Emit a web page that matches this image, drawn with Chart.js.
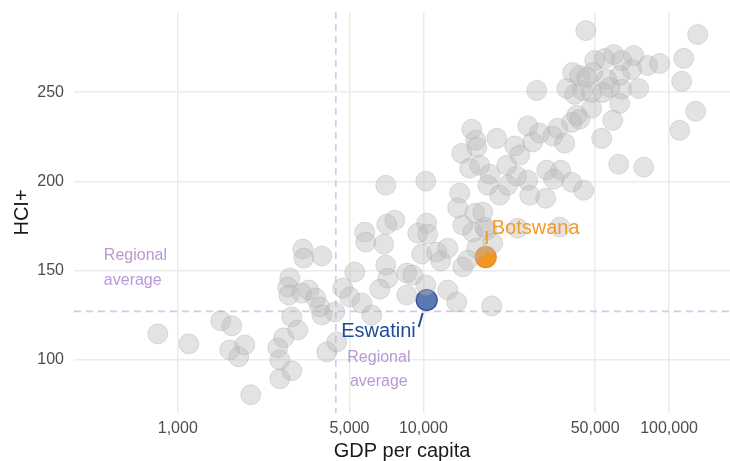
<!DOCTYPE html>
<html lang="en">
<head>
  <meta charset="UTF-8">
  <title>HCI+ vs GDP per capita</title>
  <style>
    body {
      margin: 0;
      background: #ffffff;
    }
    canvas#chart {
      display: block;
    }
  </style>
</head>
<body>
  <canvas id="chart" width="730" height="461"></canvas>

  <script src="https://cdn.jsdelivr.net/npm/chart.js"></script>
  <script>
    // all other countries (grey)
    const gdpValues = [
      829, 1109, 1496, 1659, 1628, 1771, 1874, 1982, 2553, 2701,
      2601, 2911, 2601, 2911, 3079, 2856, 2804, 2830, 3197, 3414,
      3226, 3257, 3857, 3645, 3785, 3857, 4355, 4041, 4438, 4695,
      5012, 5609, 6161, 5253, 5768, 5823, 7024, 10220, 7641, 7089,
      6893, 7024, 7156, 6640, 8551, 9048, 8551, 10220, 12560, 13660,
      18970, 9480, 10310, 10410, 9840, 11330, 11760, 12560, 14450, 15150,
      15870, 17770, 19140, 16480, 14450, 16180, 17430, 13790, 14050, 18100,
      24200, 35860, 15730, 16330, 16480, 19880, 14320, 23530, 24660, 27860,
      26580, 29740, 33590, 35200, 37590, 15430, 16950, 18620, 21830, 23970,
      26580, 31760, 36210, 33910, 40150, 44920, 18270, 20440, 22030, 27080,
      31460, 28910, 38300, 40530, 43270, 41290, 42070, 40150, 48420, 44500,
      45780, 49820, 54700, 59500, 64140, 71770, 81850, 91570, 70440, 62940,
      55720, 48870, 46200, 64140, 57310, 53660, 48420, 62940, 75200, 58950,
      53170, 62360, 78830, 110400, 128300, 112500, 114700, 130700, 43270
    ];
    const hciValues = [
      114.4, 108.8, 121.7, 118.9, 105.4, 101.5, 108.2, 80.2, 106.6, 112.2,
      99.8, 93.7, 89.2, 123.9, 116.6, 145.7, 140.7, 136.2, 137.3, 139.0,
      162.0, 156.9, 158.1, 134.5, 129.5, 125.0, 126.7, 104.3, 109.9, 140.1,
      135.1, 131.7, 125.0, 149.1, 171.5, 165.9, 197.8, 200.1, 178.2, 175.9,
      164.8, 153.0, 145.7, 139.5, 148.5, 147.4, 136.2, 141.8, 139.0, 132.3,
      130.1, 170.9, 176.5, 170.4, 159.2, 160.3, 155.3, 162.5, 151.9, 155.8,
      171.5, 174.3, 165.3, 162.5, 175.4, 182.1, 182.7, 185.1, 193.5, 172.6,
      173.7, 174.3, 229.2, 223.1, 219.1, 224.1, 215.7, 219.8, 214.7, 222.1,
      231.1, 227.1, 225.4, 229.8, 221.4, 207.3, 209.0, 204.0, 209.0, 202.9,
      200.6, 206.2, 206.2, 201.2, 199.5, 195.0, 197.8, 192.2, 197.8, 192.2,
      190.5, 251.0, 252.1, 261.1, 259.4, 248.8, 237.0, 233.1, 241.0, 251.0,
      284.6, 267.8, 268.9, 271.2, 267.8, 270.6, 265.0, 266.1, 262.8, 259.4,
      257.2, 261.1, 258.3, 251.6, 252.7, 249.9, 249.9, 243.7, 252.1, 234.2,
      224.1, 209.6, 207.9, 228.6, 239.3, 256.1, 269.0, 282.4, 234.8
    ];

    // highlighted countries
    const highlightNames = ['Eswatini', 'Botswana'];
    const highlightGdp = [10310, 17930];
    const highlightHci = [133.4, 157.5];
    const highlightFill = ['rgba(70, 102, 168, 0.88)', '#f29524'];
    const highlightBorder = ['#2d4e94', '#e98c1c'];
    const highlightText = ['#1f4b99', '#f39b2a'];

    // regional averages
    const regionalGdp = 4400;
    const regionalHci = 127;
    const regionalLabelGdp = 500;

    const xTicks = [1000, 5000, 10000, 50000, 100000];
    const yTicks = [100, 150, 200, 250];

    const FONT = "'Liberation Sans', Arial, sans-serif";
    const regionalColor = '#b898d6';

    const greyPoints = gdpValues.map((g, i) => ({ x: g, y: hciValues[i] }));
    const highlightPoints = highlightGdp.map((g, i) => ({ x: g, y: highlightHci[i] }));

    const overlay = {
      id: 'overlay',
      beforeDatasetsDraw(chart) {
        const { ctx, chartArea: a, scales: { x, y } } = chart;
        const vx = x.getPixelForValue(regionalGdp);
        const hy = y.getPixelForValue(regionalHci);
        ctx.save();
        ctx.strokeStyle = '#d6c7ec';
        ctx.lineWidth = 1.6;
        ctx.setLineDash([7, 5]);
        ctx.beginPath();
        ctx.moveTo(vx, a.top); ctx.lineTo(vx, a.bottom);
        ctx.moveTo(a.left, hy); ctx.lineTo(a.right, hy);
        ctx.stroke();
        ctx.restore();
      },
      afterDatasetsDraw(chart) {
        const { ctx, scales: { x, y } } = chart;
        const vx = x.getPixelForValue(regionalGdp);
        const hy = y.getPixelForValue(regionalHci);
        ctx.save();
        ctx.textBaseline = 'middle';

        // regional average labels
        ctx.fillStyle = regionalColor;
        ctx.font = '16px ' + FONT;
        ctx.textAlign = 'left';
        const lx = x.getPixelForValue(regionalLabelGdp);
        ctx.fillText('Regional', lx, hy - 56);
        ctx.fillText('average', lx, hy - 31);
        ctx.textAlign = 'center';
        ctx.fillText('Regional', vx + 43, hy + 46);
        ctx.fillText('average', vx + 43, hy + 70);

        // country labels
        ctx.font = '20px ' + FONT;
        ctx.lineWidth = 2;
        const e = { px: x.getPixelForValue(highlightGdp[0]), py: y.getPixelForValue(highlightHci[0]) };
        ctx.strokeStyle = highlightText[0];
        ctx.beginPath();
        ctx.moveTo(e.px - 8, e.py + 27); ctx.lineTo(e.px - 4, e.py + 13);
        ctx.stroke();
        ctx.fillStyle = highlightText[0];
        ctx.textAlign = 'right';
        ctx.fillText(highlightNames[0], e.px - 11, e.py + 31);

        const b = { px: x.getPixelForValue(highlightGdp[1]), py: y.getPixelForValue(highlightHci[1]) };
        ctx.strokeStyle = highlightText[1];
        ctx.beginPath();
        ctx.moveTo(b.px + 1, b.py - 26); ctx.lineTo(b.px + 1, b.py - 13);
        ctx.stroke();
        ctx.fillStyle = highlightText[1];
        ctx.textAlign = 'left';
        ctx.fillText(highlightNames[1], b.px + 6, b.py - 29);
        ctx.restore();
      }
    };

    new Chart(document.getElementById('chart'), {
      type: 'scatter',
      data: {
        datasets: [
          {
            label: 'Other countries',
            data: greyPoints,
            pointRadius: 10,
            pointBackgroundColor: 'rgba(185, 185, 185, 0.4)',
            pointBorderColor: 'rgba(165, 165, 165, 0.35)',
            pointBorderWidth: 1,
            clip: false
          },
          {
            label: 'Highlighted',
            data: highlightPoints,
            pointRadius: 10.5,
            pointBackgroundColor: highlightFill,
            pointBorderColor: highlightBorder,
            pointBorderWidth: 1.2,
            clip: false
          }
        ]
      },
      options: {
        responsive: false,
        animation: false,
        layout: { autoPadding: false, padding: { top: 12, right: 0, bottom: 0, left: 0 } },
        plugins: {
          legend: { display: false },
          tooltip: { enabled: false }
        },
        scales: {
          x: {
            type: 'logarithmic',
            min: 378,
            max: 177000,
            afterBuildTicks: s => { s.ticks = xTicks.map(v => ({ value: v })); },
            afterFit: s => { s.height = 48; s.paddingLeft = 0; s.paddingRight = 0; },
            ticks: {
              callback: v => Number(v).toLocaleString('en-US'),
              color: '#4d4d4d',
              font: { family: FONT, size: 16 },
              padding: 6,
              autoSkip: false,
              maxRotation: 0
            },
            grid: { color: '#ebebeb', lineWidth: 1.5, drawTicks: false },
            border: { display: false },
            title: {
              display: true,
              text: 'GDP per capita',
              color: '#1a1a1a',
              font: { family: FONT, size: 20, lineHeight: 1 },
              padding: { top: 0, bottom: 0 }
            }
          },
          y: {
            type: 'linear',
            min: 70,
            max: 295,
            afterBuildTicks: s => { s.ticks = yTicks.map(v => ({ value: v })); },
            afterFit: s => { s.width = 74; s.paddingTop = 0; s.paddingBottom = 0; },
            ticks: {
              color: '#4d4d4d',
              font: { family: FONT, size: 16 },
              padding: 10
            },
            grid: { color: '#ebebeb', lineWidth: 1.5, drawTicks: false },
            border: { display: false },
            title: {
              display: true,
              text: 'HCI+',
              color: '#1a1a1a',
              font: { family: FONT, size: 20 },
              padding: { top: 10, bottom: 0 }
            }
          }
        }
      },
      plugins: [overlay]
    });
  </script>
</body>
</html>
